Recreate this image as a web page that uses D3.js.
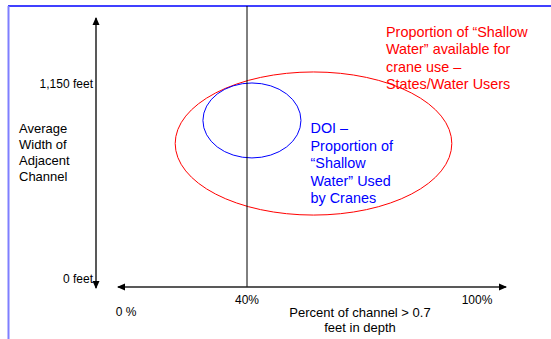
<!DOCTYPE html>
<html>
<head>
<meta charset="utf-8">
<script src="https://cdn.jsdelivr.net/npm/d3@7"></script>
<style>
  body { margin: 0; background: #fff; }
  svg { display: block; font-family: "Liberation Sans", Arial, sans-serif; }
</style>
</head>
<body>
<div id="chart"></div>
<script>
// Tick values and labels
const xTickValues = [0, 40, 100];
const xTickLabels = ['0 %', '40%', '100%'];
const yTickValues = [0, 1150];
const yTickLabels = ['0 feet', '1,150 feet'];

// Ellipses (percent of channel, feet)
const ellipseNames = ['states', 'doi'];
const ellipseCx = [57.5, 41.3];
const ellipseCy = [799, 935];
const ellipseRx = [36.4, 12.9];
const ellipseRy = [422, 221];
const ellipseColors = ['#ff0000', '#0000ff'];

// Annotation text
const yTitleLines = ['Average', 'Width of', 'Adjacent', 'Channel'];
const xTitleLines = ['Percent of channel > 0.7', 'feet in depth'];
const statesLines = ['Proportion of \u201cShallow', 'Water\u201d available for', 'crane use \u2013', 'States/Water Users'];
const doiLines = ['DOI \u2013', 'Proportion of', '\u201cShallow', 'Water\u201d Used', 'by Cranes'];

const width = 551, height = 339;

const svg = d3.select('#chart')
  .append('svg')
  .attr('width', width)
  .attr('height', height);

const x = d3.scaleLinear().domain([0, 100]).range([95, 475]);
const y = d3.scaleLinear().domain([0, 1150]).range([279, 84]);

// arrow marker
const defs = svg.append('defs');
defs.append('marker')
  .attr('id', 'arrow')
  .attr('viewBox', '0 -4 8 8')
  .attr('refX', 7)
  .attr('refY', 0)
  .attr('markerWidth', 8)
  .attr('markerHeight', 8)
  .attr('markerUnits', 'userSpaceOnUse')
  .attr('orient', 'auto-start-reverse')
  .append('path')
  .attr('d', 'M0,-3.5L8,0L0,3.5Z')
  .attr('fill', '#000');

// frame
svg.append('line')
  .attr('x1', 8).attr('y1', 6).attr('x2', width).attr('y2', 6)
  .attr('stroke', '#0000ff').attr('stroke-width', 1.5);
svg.append('line')
  .attr('x1', 8.5).attr('y1', 6).attr('x2', 8.5).attr('y2', height)
  .attr('stroke', '#7f7fff').attr('stroke-width', 2);

// ellipses
ellipseNames.forEach((name, i) => {
  svg.append('ellipse')
    .attr('class', 'ellipse-' + name)
    .attr('cx', x(ellipseCx[i]))
    .attr('cy', y(ellipseCy[i]))
    .attr('rx', x(ellipseRx[i]) - x(0))
    .attr('ry', y(0) - y(ellipseRy[i]))
    .attr('fill', 'none')
    .attr('stroke', ellipseColors[i])
    .attr('stroke-width', 1);
});

// 40% divider
svg.append('line')
  .attr('x1', x(40)).attr('x2', x(40))
  .attr('y1', 6).attr('y2', 287)
  .attr('stroke', '#000').attr('stroke-width', 1);

// axes (double-headed arrows)
svg.append('line')
  .attr('x1', 96).attr('x2', 96)
  .attr('y1', 288).attr('y2', 18)
  .attr('stroke', '#222').attr('stroke-width', 1.5)
  .attr('marker-start', 'url(#arrow)')
  .attr('marker-end', 'url(#arrow)');
svg.append('line')
  .attr('x1', 118).attr('x2', 506)
  .attr('y1', 287).attr('y2', 287)
  .attr('stroke', '#222').attr('stroke-width', 1.5)
  .attr('marker-start', 'url(#arrow)')
  .attr('marker-end', 'url(#arrow)');

// y tick labels
yTickValues.forEach((v, i) => {
  svg.append('text')
    .attr('x', 93)
    .attr('y', y(v) + 4)
    .attr('text-anchor', 'end')
    .style('font-size', '12px')
    .style('fill', '#000')
    .text(yTickLabels[i]);
});

// x tick labels
xTickValues.forEach((v, i) => {
  const isZero = v === 0;
  svg.append('text')
    .attr('x', isZero ? x(v) + 31 : x(v) + (v === 100 ? 2 : 0))
    .attr('y', isZero ? 316 : 304)
    .attr('text-anchor', 'middle')
    .style('font-size', '12px')
    .style('fill', '#000')
    .text(xTickLabels[i]);
});

// axis titles
yTitleLines.forEach((t, i) => {
  svg.append('text')
    .attr('x', 19)
    .attr('y', 132.5 + i * 16)
    .style('font-size', '13px')
    .style('fill', '#000')
    .text(t);
});
xTitleLines.forEach((t, i) => {
  svg.append('text')
    .attr('x', 360)
    .attr('y', 317 + i * 15)
    .attr('text-anchor', 'middle')
    .style('font-size', '13px')
    .style('fill', '#000')
    .text(t);
});

// ellipse annotations
statesLines.forEach((t, i) => {
  svg.append('text')
    .attr('x', 386)
    .attr('y', 37 + i * 17.3)
    .style('font-size', '14.4px')
    .style('fill', '#ff0000')
    .text(t);
});
doiLines.forEach((t, i) => {
  svg.append('text')
    .attr('x', 310.5)
    .attr('y', 133 + i * 17.5)
    .style('font-size', '14.4px')
    .style('fill', '#0000ff')
    .text(t);
});
</script>
</body>
</html>
